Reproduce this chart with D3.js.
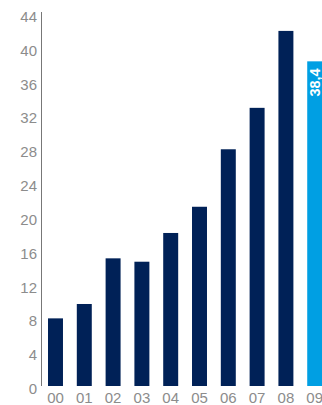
<!DOCTYPE html>
<html>
<head>
<meta charset="utf-8">
<script src="https://cdn.jsdelivr.net/npm/d3@7"></script>
<style>
  body { margin: 0; background: #fff; }
  #chart text { font-family: "Liberation Sans", Arial, sans-serif; }
</style>
</head>
<body>
<div id="chart"></div>
<script>
// data
var years = ["00", "01", "02", "03", "04", "05", "06", "07", "08", "09"];
var values = [8.0, 9.7, 15.1, 14.7, 18.1, 21.2, 28.0, 32.9, 42.0, 38.4];
var yTicks = [0, 4, 8, 12, 16, 20, 24, 28, 32, 36, 40, 44];
var lastLabel = "38,4";

var width = 322, height = 405;

var svg = d3.select("#chart").append("svg")
  .attr("width", width)
  .attr("height", height);

// x axis
var x = d3.scaleBand()
  .domain(years)
  .range([41, 329.2])
  .paddingInner(0.48)
  .paddingOuter(0.243);

// y axis
var y = d3.scaleLinear()
  .domain([0, 44])
  .range([386, 14]);

var yAxis = svg.append("g")
  .attr("transform", "translate(41,0)")
  .call(d3.axisLeft(y).tickValues(yTicks).tickSize(0).tickSizeOuter(0).tickPadding(4));
yAxis.select(".domain").attr("stroke", "#777").attr("d", "M0.5," + (y(44) - 2) + "V" + y(0));
yAxis.selectAll("text")
  .attr("fill", "#8c8c8c")
  .attr("font-size", "15px")
  .attr("dy", "0.5em");

var xAxis = svg.append("g")
  .attr("transform", "translate(0," + y(0) + ")")
  .call(d3.axisBottom(x).tickSize(0).tickPadding(6));
xAxis.select(".domain").remove();
xAxis.selectAll("text")
  .attr("fill", "#8c8c8c")
  .attr("font-size", "15px");

// bars
svg.append("g")
  .selectAll("rect")
  .data(values)
  .enter()
  .append("rect")
    .attr("x", function(d, i) { return x(years[i]); })
    .attr("y", function(d) { return y(d); })
    .attr("width", x.bandwidth())
    .attr("height", function(d) { return y(0) - y(d); })
    .attr("fill", function(d, i) { return i == years.length - 1 ? "#009fe3" : "#002157"; });

// value label on last bar
var lx = x(years[years.length - 1]) + x.bandwidth() / 2;
var ly = y(values[values.length - 1]) + 7;
svg.append("text")
  .attr("transform", "translate(" + lx + "," + ly + ") rotate(-90)")
  .attr("text-anchor", "end")
  .attr("dy", "0.35em")
  .attr("fill", "#fff")
  .attr("font-weight", "bold")
  .attr("font-size", "14.5px")
  .text(lastLabel);
</script>
</body>
</html>
